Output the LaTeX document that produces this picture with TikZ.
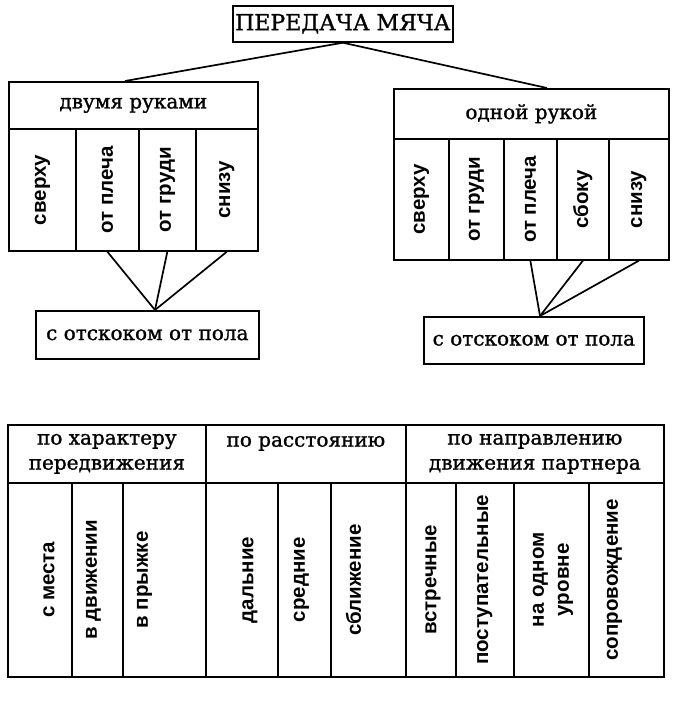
\documentclass[tikz,border=0pt]{standalone}
\usepackage{fontspec}
\setmainfont{DejaVu Serif}[FakeBold=1.2]
\newfontfamily\hdrfont{DejaVu Serif}[FakeBold=1.2]
\newfontfamily\vertfont{Liberation Sans}

\begin{document}
\begin{tikzpicture}[x=1pt,y=-1pt,line width=1.7pt,
	box/.style={draw, inner sep=0pt, anchor=north west},
	hdr/.style={box, font=\hdrfont\fontsize{20}{25}\selectfont, align=center},
	vlab/.style={inner sep=0pt, font=\vertfont\bfseries\fontsize{20.5}{25}\selectfont}]
		\useasboundingbox (0,0) rectangle (699,704);

		\node (title) [box, minimum width=220pt, minimum height=36pt, font=\hdrfont\fontsize{22}{26}\selectfont] at (232,5) {ПЕРЕДАЧА МЯЧА};

		% двумя руками
		\node (dvum) [hdr, minimum width=249pt, minimum height=47pt] at (8,81) {двумя руками};
		\node (d1) [box, minimum width=67pt, minimum height=122pt] at (8,128) {};
		\node (d2) [box, minimum width=63pt, minimum height=122pt] at (75,128) {};
		\node (d3) [box, minimum width=57pt, minimum height=122pt] at (138,128) {};
		\node (d4) [box, minimum width=62pt, minimum height=122pt] at (195,128) {};
		\node [vlab] at (d1) {\rotatebox{90}{сверху}};
		\node [vlab] at (d2) {\rotatebox{90}{от плеча}};
		\node [vlab] at (d3) {\rotatebox{90}{от груди}};
		\node [vlab] at (d4) {\rotatebox{90}{снизу}};
		\node (otsL) [hdr, minimum width=223pt, minimum height=48pt] at (35,310) {с отскоком от пола};
		\coordinate (jL) at (155,310);
		\draw (d2.south) -- (jL);
		\draw (d3.south) -- (jL);
		\draw (d4.south) -- (jL);

		% одной рукой
		\node (odna) [hdr, minimum width=275pt, minimum height=50pt] at (393,88) {одной рукой};
		\node (o1) [box, minimum width=55pt, minimum height=121pt] at (393,138) {};
		\node (o2) [box, minimum width=55pt, minimum height=121pt] at (448,138) {};
		\node (o3) [box, minimum width=53pt, minimum height=121pt] at (503,138) {};
		\node (o4) [box, minimum width=52pt, minimum height=121pt] at (556,138) {};
		\node (o5) [box, minimum width=60pt, minimum height=121pt] at (608,138) {};
		\node [vlab] at (o1) {\rotatebox{90}{сверху}};
		\node [vlab] at (o2) {\rotatebox{90}{от груди}};
		\node [vlab] at (o3) {\rotatebox{90}{от плеча}};
		\node [vlab] at (o4) {\rotatebox{90}{сбоку}};
		\node [vlab] at (o5) {\rotatebox{90}{снизу}};
		\node (otsR) [hdr, minimum width=220pt, minimum height=47pt] at (423,316) {с отскоком от пола};
		\coordinate (jR) at (540,316);
		\draw (o3.south) -- (jR);
		\draw (o4.south) -- (jR);
		\draw (o5.south) -- (jR);

		\coordinate (tL) at (125,81);
		\coordinate (tR) at (547,88);
		\draw (title.south) -- (tL);
		\draw (title.south) -- (tR);

		% нижняя таблица
		\node (g1) [hdr, minimum width=198pt, minimum height=58pt] at (7,424) {по характеру\\передвижения};
		\node (g2) [hdr, minimum width=200pt, minimum height=58pt] at (205,424) {по расстоянию\\~};
		\node (g3) [hdr, minimum width=258pt, minimum height=58pt] at (405,424) {по направлению\\движения партнера};
		\node (b1) [box, minimum width=64pt, minimum height=194pt] at (7,482) {};
		\node (b2) [box, minimum width=51pt, minimum height=194pt] at (71,482) {};
		\node (b3) [box, minimum width=83pt, minimum height=194pt] at (122,482) {};
		\node (b4) [box, minimum width=72pt, minimum height=194pt] at (205,482) {};
		\node (b5) [box, minimum width=53pt, minimum height=194pt] at (277,482) {};
		\node (b6) [box, minimum width=75pt, minimum height=194pt] at (330,482) {};
		\node (b7) [box, minimum width=50pt, minimum height=194pt] at (405,482) {};
		\node (b8) [box, minimum width=58pt, minimum height=194pt] at (455,482) {};
		\node (b9) [box, minimum width=75pt, minimum height=194pt] at (513,482) {};
		\node (b10) [box, minimum width=75pt, minimum height=194pt] at (588,482) {};
		\node [vlab, xshift=9pt] at (b1) {\rotatebox{90}{с места}};
		\node [vlab, xshift=-4pt] at (b2) {\rotatebox{90}{в движении}};
		\node [vlab, xshift=-20pt] at (b3) {\rotatebox{90}{в прыжке}};
		\node [vlab, xshift=8pt] at (b4) {\rotatebox{90}{дальние}};
		\node [vlab, xshift=-3pt] at (b5) {\rotatebox{90}{средние}};
		\node [vlab, xshift=-15pt] at (b6) {\rotatebox{90}{сближение}};
		\node [vlab, xshift=2pt] at (b7) {\rotatebox{90}{встречные}};
		\node [vlab] at (b8) {\rotatebox{90}{поступательные}};
		\node [vlab] at (b9) {\rotatebox{90}{\begin{tabular}{@{}c@{}}на одном\\уровне\end{tabular}}};
		\node [vlab, xshift=-12pt] at (b10) {\rotatebox{90}{сопровождение}};
	\end{tikzpicture}
\end{document}
